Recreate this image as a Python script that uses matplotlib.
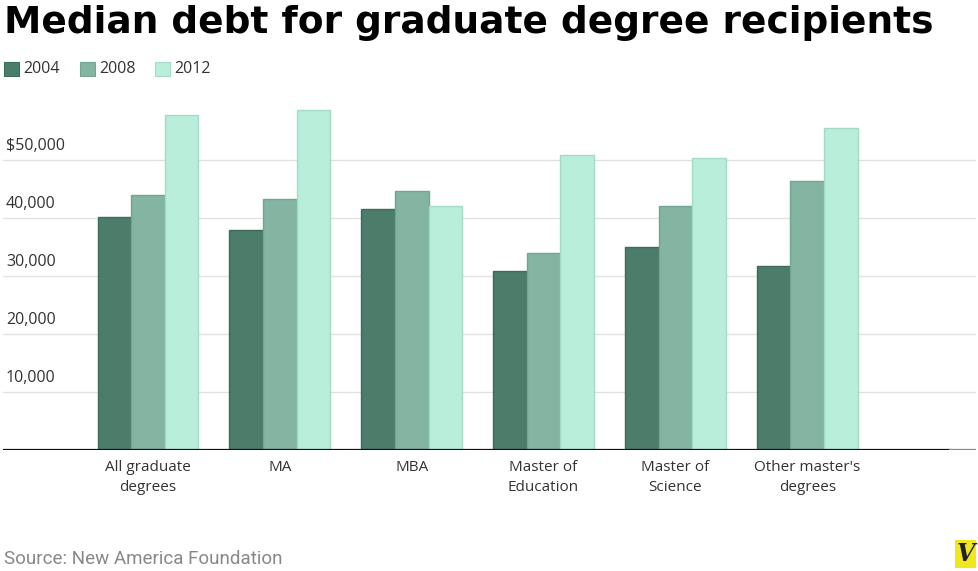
import matplotlib
matplotlib.use("Agg")
from matplotlib import pyplot as plt
from matplotlib import font_manager
from matplotlib.patches import Rectangle
import matplotlib.transforms as mtransforms
import numpy as np

categories = ["All graduate\ndegrees", "MA", "MBA", "Master of\nEducation",
              "Master of\nScience", "Other master's\ndegrees"]
years = ["2004", "2008", "2012"]
debt_2004 = [40100, 38000, 41500, 30900, 35000, 31700]
debt_2008 = [44000, 43300, 44700, 34000, 42000, 46300]
debt_2012 = [57800, 58600, 42000, 50900, 50300, 55500]
yticks = [10000, 20000, 30000, 40000, 50000]
ytick_labels = ["10,000", "20,000", "30,000", "40,000", "$50,000"]

fills = ["#4b7d6a", "#84b5a2", "#b8eeda"]
edges = ["#3e6c5a", "#73a490", "#a3dcc6"]

installed = {f.name for f in font_manager.fontManager.ttflist}
body_font = "Open Sans" if "Open Sans" in installed else "DejaVu Sans"
narrow_font = "Roboto" if "Roboto" in installed else "DejaVu Sans"

fig = plt.figure(figsize=(9.79, 5.71), dpi=100)
ax = fig.add_axes([3 / 979, 121 / 571, 973 / 979, 351 / 571])

x = np.arange(len(categories))
width = 0.255
for i, vals in enumerate([debt_2004, debt_2008, debt_2012]):
    ax.bar(x + (i - 1) * width, vals, width, color=fills[i], edgecolor=edges[i],
           linewidth=1, zorder=3)

ax.set_xlim(-1.1, 6.28)
ax.set_ylim(0, 60500)
for v in yticks:
    ax.axhline(v, color="#e2e2e2", lw=1, zorder=1)
trans = mtransforms.blended_transform_factory(ax.transAxes, ax.transData)
for v, lab in zip(yticks, ytick_labels):
    ax.text(0.003, v + 1000, lab, transform=trans, ha="left", va="bottom",
            fontsize=11.5, color="#333333", family=body_font)

frac = (950 - 3) / 973
ax.axhline(0, xmin=0, xmax=frac, color="#111111", lw=1.6, zorder=4)
ax.axhline(0, xmin=frac, xmax=1, color="#888888", lw=1.6, zorder=4)

ax.set_xticks(x)
ax.set_xticklabels(categories, fontsize=11, color="#333333", family=body_font,
                   linespacing=1.45)
ax.tick_params(axis="x", length=0, pad=7)
ax.set_yticks([])
for s in ax.spines.values():
    s.set_visible(False)

fig.text(4 / 979, 1 - 23 / 571, "Median debt for graduate degree recipients",
         fontsize=27, fontweight="bold", family="DejaVu Sans", color="#000000",
         ha="left", va="center")

leg_x = [4, 80, 155]
for xi, yr, c, e in zip(leg_x, years, fills, edges):
    fig.patches.append(Rectangle((xi / 979, 1 - 76 / 571), 15 / 979, 14 / 571,
                                 transform=fig.transFigure, facecolor=c,
                                 edgecolor=e, lw=0.8))
    fig.text((xi + 19) / 979, 1 - 69 / 571, yr, fontsize=11.5, color="#333333",
             family=body_font, ha="left", va="center")

fig.text(4 / 979, 1 - 559 / 571, "Source: New America Foundation", fontsize=13.5,
         color="#888888", family=narrow_font, ha="left", va="center")

fig.patches.append(Rectangle((955 / 979, 3 / 571), 21 / 979, 28 / 571,
                             transform=fig.transFigure, facecolor="#f2e61c",
                             edgecolor="none"))
fig.text(965.5 / 979, 17 / 571, "V", fontsize=17, fontweight="bold",
         style="italic", family="DejaVu Serif", color="#222233",
         ha="center", va="center")

fig.savefig("out.png", dpi=100)
